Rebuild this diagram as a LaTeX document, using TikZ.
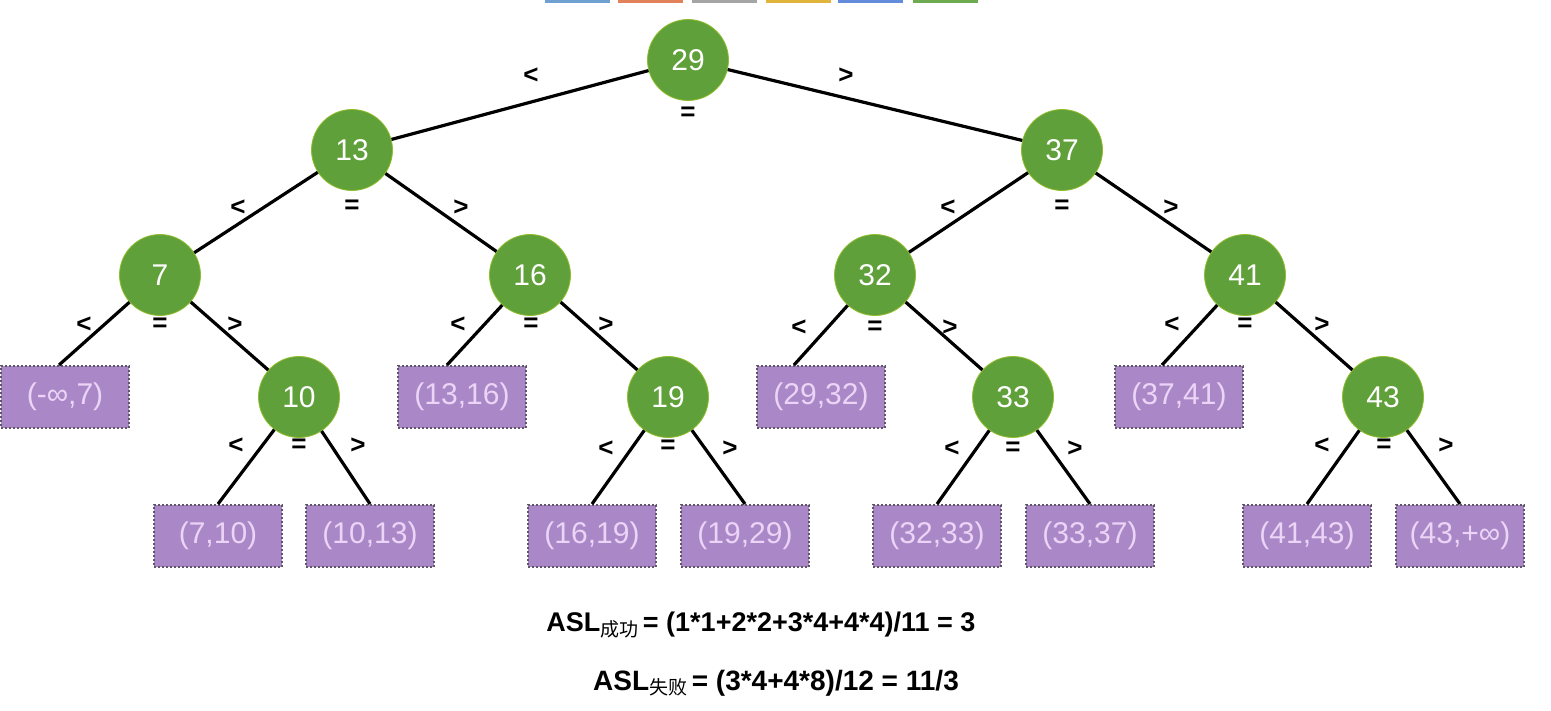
\documentclass[tikz,border=0pt]{standalone}
\usepackage{fontspec}
\setmainfont{Liberation Sans}
\newfontfamily\cjkfont{Noto Sans CJK SC}
\definecolor{treegreen}{RGB}{96,160,58}
\definecolor{leafpurple}{RGB}{170,136,200}
\definecolor{leaftext}{RGB}{236,212,246}
\definecolor{leafborder}{RGB}{95,85,105}
\definecolor{barblue}{RGB}{112,160,210}
\definecolor{barorange}{RGB}{225,130,90}
\definecolor{bargray}{RGB}{165,165,165}
\definecolor{baryellow}{RGB}{225,180,60}
\definecolor{barblue2}{RGB}{100,140,220}
\definecolor{bargreen}{RGB}{110,170,80}
\begin{document}
\begin{tikzpicture}[x=0.5pt,y=-0.5pt,
  keynode/.style={circle,fill=treegreen,draw=treegreen!70!yellow,line width=0.4pt,minimum size=40.5pt,inner sep=0pt,text=white,font=\fontsize{15}{17}\selectfont},
  leafbox/.style={rectangle,fill=leafpurple,draw=leafborder,line width=1pt,dash pattern=on 1pt off 1pt,minimum width=64pt,minimum height=31pt,inner sep=0pt,text=leaftext,font=\fontsize{15}{17}\selectfont},
  edge/.style={line width=1.6pt,black},
  cmp/.style={font=\bfseries\fontsize{13}{13}\selectfont,inner sep=0pt},
  asl/.style={font=\bfseries\fontsize{13.5}{15}\selectfont,inner sep=0pt},
  topbar/.style={inner sep=0pt,minimum width=32.5pt,minimum height=1.5pt}]
\useasboundingbox (0,0) rectangle (1551,711);
\fill[white] (0,0) rectangle (1551,711);
% cropped legend bars at the top
\node[topbar,fill=barblue]   (t1) at (577,1.5) {};
\node[topbar,fill=barorange] (t2) at (650,1.5) {};
\node[topbar,fill=bargray]   (t3) at (724,1.5) {};
\node[topbar,fill=baryellow] (t4) at (798,1.5) {};
\node[topbar,fill=barblue2]  (t5) at (870,1.5) {};
\node[topbar,fill=bargreen]  (t6) at (945,1.5) {};
% key nodes
\node[keynode] (n29) at (688,60) {29};
\node[keynode] (n13) at (352,150) {13};
\node[keynode] (n37) at (1062,150) {37};
\node[keynode] (n7)  at (160,275) {7};
\node[keynode] (n16) at (530,275) {16};
\node[keynode] (n32) at (875,275) {32};
\node[keynode] (n41) at (1245,275) {41};
\node[keynode] (n10) at (299,397) {10};
\node[keynode] (n19) at (668,397) {19};
\node[keynode] (n33) at (1013,397) {33};
\node[keynode] (n43) at (1383,397) {43};
% failure intervals
\node[leafbox] (b1)  at (65,397)   {(-∞,7)};
\node[leafbox] (b2)  at (462,397)  {(13,16)};
\node[leafbox] (b3)  at (821,397)  {(29,32)};
\node[leafbox] (b4)  at (1179,397) {(37,41)};
\node[leafbox] (b5)  at (218,536)  {(7,10)};
\node[leafbox] (b6)  at (370,536)  {(10,13)};
\node[leafbox] (b7)  at (592,536)  {(16,19)};
\node[leafbox] (b8)  at (745,536)  {(19,29)};
\node[leafbox] (b9)  at (937,536)  {(32,33)};
\node[leafbox] (b10) at (1090,536) {(33,37)};
\node[leafbox] (b11) at (1307,536) {(41,43)};
\node[leafbox] (b12) at (1460,536) {(43,+∞)};
% edges
\draw[edge] (n29) -- (n13);
\draw[edge] (n29) -- (n37);
\draw[edge] (n13) -- (n7);
\draw[edge] (n13) -- (n16);
\draw[edge] (n37) -- (n32);
\draw[edge] (n37) -- (n41);
\draw[edge] (n7) -- ([xshift=-3pt]b1.north);
\draw[edge] (n7) -- (n10);
\draw[edge] (n16) -- ([xshift=-7.5pt]b2.north);
\draw[edge] (n16) -- (n19);
\draw[edge] (n32) -- ([xshift=-13.5pt]b3.north);
\draw[edge] (n32) -- (n33);
\draw[edge] (n41) -- ([xshift=-8.5pt]b4.north);
\draw[edge] (n41) -- (n43);
\draw[edge] (n10) -- (b5.north);
\draw[edge] (n10) -- (b6.north);
\draw[edge] (n19) -- (b7.north);
\draw[edge] (n19) -- (b8.north);
\draw[edge] (n33) -- (b9.north);
\draw[edge] (n33) -- (b10.north);
\draw[edge] (n43) -- (b11.north);
\draw[edge] (n43) -- (b12.north);
% comparison labels
\node[cmp] (l29) at (531,76) {<};  \node[cmp] (e29) at (688,114) {=}; \node[cmp] (g29) at (846,76) {>};
\node[cmp] (l13) at (238,208) {<}; \node[cmp] (e13) at (352,207) {=}; \node[cmp] (g13) at (461,208) {>};
\node[cmp] (l37) at (948,208) {<}; \node[cmp] (e37) at (1062,207) {=}; \node[cmp] (g37) at (1171,208) {>};
\node[cmp] (l7) at (84,325) {<};   \node[cmp] (e7) at (160,325) {=};  \node[cmp] (g7) at (235,325) {>};
\node[cmp] (l16) at (458,325) {<}; \node[cmp] (e16) at (531,325) {=}; \node[cmp] (g16) at (606,325) {>};
\node[cmp] (l32) at (799,328) {<}; \node[cmp] (e32) at (875,328) {=}; \node[cmp] (g32) at (950,328) {>};
\node[cmp] (l41) at (1172,325) {<}; \node[cmp] (e41) at (1245,325) {=}; \node[cmp] (g41) at (1322,325) {>};
\node[cmp] (l10) at (236,446) {<}; \node[cmp] (e10) at (299,446) {=}; \node[cmp] (g10) at (358,446) {>};
\node[cmp] (l19) at (606,449) {<}; \node[cmp] (e19) at (668,447) {=}; \node[cmp] (g19) at (730,449) {>};
\node[cmp] (l33) at (952,449) {<}; \node[cmp] (e33) at (1013,449) {=}; \node[cmp] (g33) at (1075,449) {>};
\node[cmp] (l43) at (1322,446) {<}; \node[cmp] (e43) at (1384,446) {=}; \node[cmp] (g43) at (1446,446) {>};
% formulas
\node[asl] (asl1) at (761,625) {ASL\raisebox{-0.3ex}{\cjkfont\mdseries\fontsize{9.5}{9.5}\selectfont 成功}\,= (1*1+2*2+3*4+4*4)/11 = 3};
\node[asl,font=\bfseries\fontsize{14}{15}\selectfont] (asl2) at (776,683) {ASL\raisebox{-0.3ex}{\cjkfont\mdseries\fontsize{9.5}{9.5}\selectfont 失败}\,= (3*4+4*8)/12 = 11/3};
\end{tikzpicture}
\end{document}
